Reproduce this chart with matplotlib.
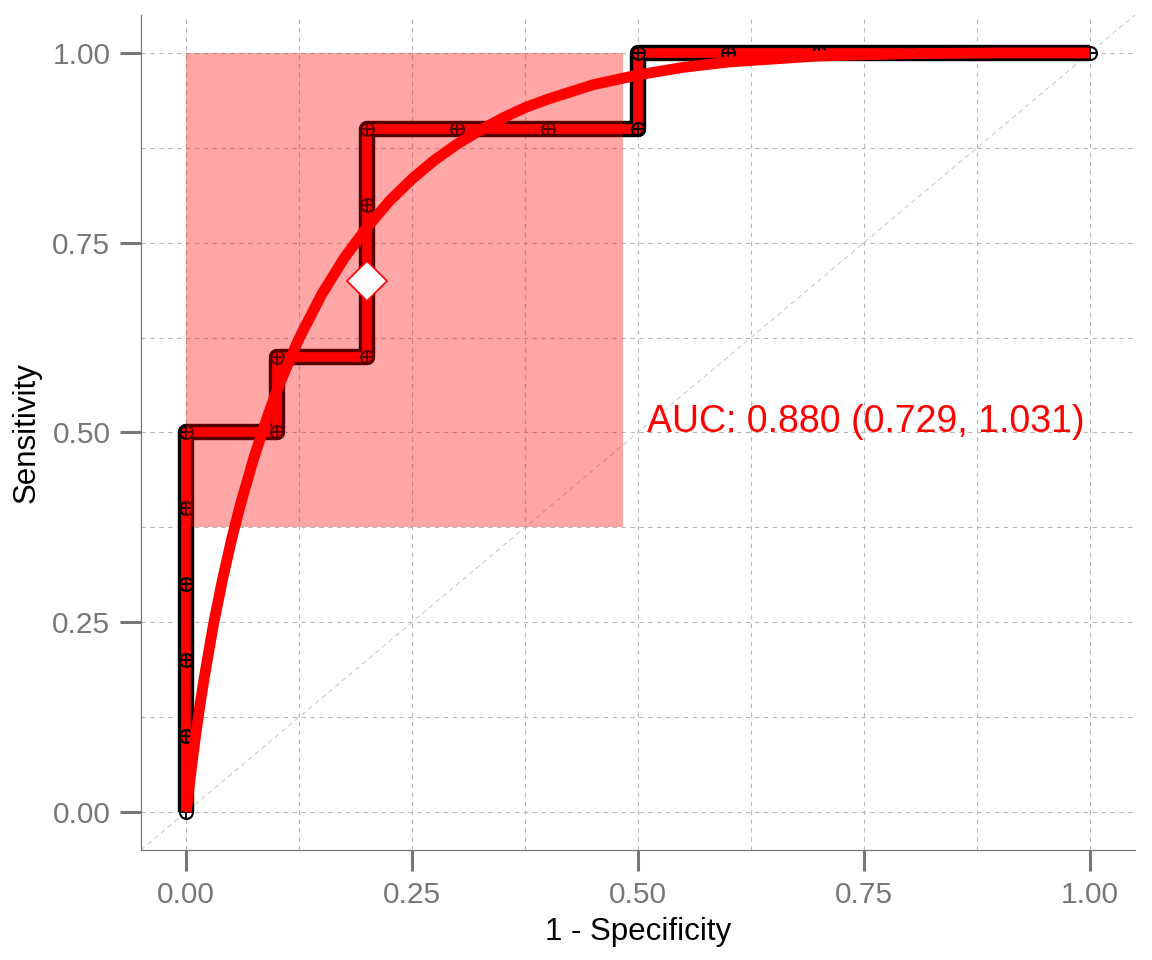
import matplotlib
matplotlib.use("Agg")
import matplotlib.pyplot as plt
from matplotlib.patches import Rectangle

plt.rcParams['font.family'] = ['Liberation Sans', 'DejaVu Sans']

# empirical ROC points (1 - specificity, sensitivity)
fpr = [0, 0, 0, 0, 0, 0, 0.1, 0.1, 0.2, 0.2, 0.2, 0.2, 0.3, 0.4, 0.5, 0.5, 0.6, 0.7, 0.8, 0.9, 1.0]
tpr = [0, 0.1, 0.2, 0.3, 0.4, 0.5, 0.5, 0.6, 0.6, 0.7, 0.8, 0.9, 0.9, 0.9, 0.9, 1.0, 1.0, 1.0, 1.0, 1.0, 1.0]

# smoothed ROC curve
smooth_fpr = [0, 0.0001, 0.0005, 0.001, 0.002, 0.005, 0.01, 0.015, 0.02, 0.03, 0.04, 0.05,
              0.06, 0.075, 0.09, 0.1, 0.11, 0.125, 0.15, 0.175, 0.2, 0.225, 0.25, 0.275,
              0.3, 0.325, 0.35, 0.375, 0.4, 0.45, 0.5, 0.55, 0.6, 0.65, 0.7, 0.75,
              0.8, 0.9, 1.0]
smooth_tpr = [0, 0.0007, 0.0043, 0.0094, 0.020, 0.050, 0.097, 0.139, 0.177, 0.246, 0.305, 0.358,
              0.405, 0.467, 0.521, 0.554, 0.583, 0.624, 0.682, 0.730, 0.770, 0.805, 0.834, 0.859,
              0.880, 0.898, 0.914, 0.928, 0.939, 0.958, 0.971, 0.981, 0.988, 0.992, 0.996, 0.9976,
              0.999, 1.0, 1.0]

# chosen cut-off point and its confidence region
cut_fpr = 0.2
cut_tpr = 0.7
region_fpr = [0.0, 0.483]
region_tpr = [0.375, 1.0]

auc_label = "AUC: 0.880 (0.729, 1.031)"
ticks = [0, 0.25, 0.5, 0.75, 1.0]
minor_ticks = [0.125, 0.375, 0.625, 0.875]
tick_labels = ["0.00", "0.25", "0.50", "0.75", "1.00"]

grey = '#777777'

fig = plt.figure(figsize=(11.52, 9.6), dpi=100)
ax = fig.add_axes([0.1224, 0.1146, 0.8628, 0.8698])
ax.set_xlim(-0.05, 1.05)
ax.set_ylim(-0.05, 1.05)

# grid
ax.set_xticks(ticks)
ax.set_yticks(ticks)
ax.set_xticks(minor_ticks, minor=True)
ax.set_yticks(minor_ticks, minor=True)
ax.set_xticklabels(tick_labels)
ax.set_yticklabels(tick_labels)
ax.set_axisbelow(True)
ax.grid(which='both', color='#b8b8b8', linewidth=0.8, linestyle=(0, (4, 4)))

# diagonal reference
ax.plot([0, 1], [0, 1], transform=ax.transAxes, color='#c4c4c4',
        linewidth=0.7, linestyle=(0, (5, 4)), zorder=1)

# empirical curve: black outline + red centre
ax.plot(fpr, tpr, color='black', linewidth=11.8, solid_joinstyle='round',
        solid_capstyle='butt', zorder=2)
ax.plot(fpr, tpr, color='red', linewidth=7.0, solid_joinstyle='round',
        solid_capstyle='butt', zorder=3)
ax.plot(fpr, tpr, linestyle='none', marker='o', markersize=9.3, markerfacecolor='none',
        markeredgecolor='black', markeredgewidth=1.5, zorder=4)
ax.plot(fpr, tpr, linestyle='none', marker='+', markersize=9.3,
        markeredgecolor='black', markeredgewidth=1.4, zorder=4)

# confidence region
ax.add_patch(Rectangle((region_fpr[0], region_tpr[0]),
                       region_fpr[1] - region_fpr[0], region_tpr[1] - region_tpr[0],
                       facecolor='red', alpha=0.35, edgecolor='none', zorder=5))

# smoothed curve
ax.plot(smooth_fpr, smooth_tpr, color='red', linewidth=7.8,
        solid_capstyle='butt', solid_joinstyle='round', zorder=6)

# cut-off point
ax.plot([cut_fpr], [cut_tpr], marker='D', markersize=20, markerfacecolor='white',
        markeredgecolor='red', markeredgewidth=1.2, zorder=7)

ax.text(0.51, 0.5, auc_label, color='red', fontsize=27, ha='left', va='baseline', zorder=8)

# axes styling
for side in ['top', 'right']:
    ax.spines[side].set_visible(False)
for side in ['left', 'bottom']:
    ax.spines[side].set_color(grey)
    ax.spines[side].set_linewidth(0.9)
ax.tick_params(which='major', direction='out', length=15, width=2.2, color=grey,
               labelcolor=grey, labelsize=21.5, pad=7)
ax.tick_params(which='minor', length=0)

ax.set_xlabel('1 - Specificity', fontsize=22.5, color='black', labelpad=6)
ax.set_ylabel('Sensitivity', fontsize=22.5, color='black', labelpad=8)

fig.savefig('out.png', dpi=100)
